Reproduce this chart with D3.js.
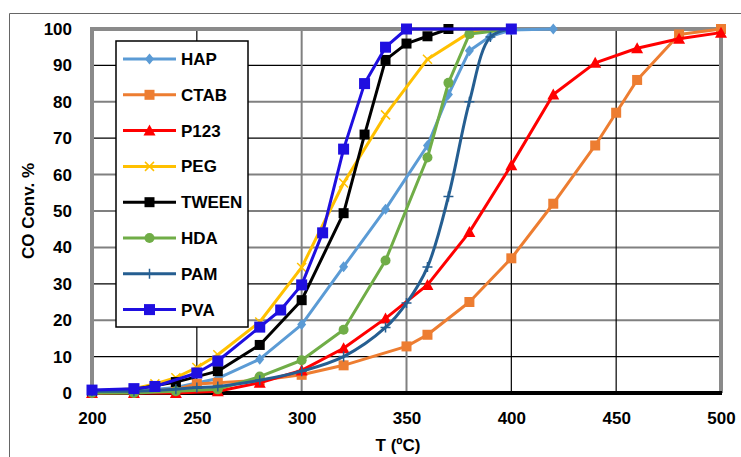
<!DOCTYPE html>
<html><head><meta charset="utf-8">
<script src="https://cdn.jsdelivr.net/npm/d3@7"></script>
<style>body{margin:0;background:#fff}svg{display:block}</style>
</head><body><svg id="c" width="741" height="457"></svg>
<script>
const xTicks = [200,250,300,350,400,450,500];
const yTicks = [0,10,20,30,40,50,60,70,80,90,100];
const seriesNames = ["HAP","CTAB","P123","PEG","TWEEN","HDA","PAM","PVA"];
const HAP_T = [200,220,240,260,280,300,320,340,360,370,380,390,400,420];
const HAP_V = [0,0.5,1.5,4,9.3,18.8,34.7,50.5,68,82,94,98,99.7,100];
const CTAB_T = [200,220,240,250,260,280,300,320,350,360,380,400,420,440,450,460,480,500];
const CTAB_V = [0,0.2,1,2.5,2.8,3.5,5,7.6,12.8,16,25,37,52,68,77,86,98.5,100];
const P123_T = [200,220,240,260,280,300,320,340,360,380,400,420,440,460,480,500];
const P123_V = [0,0,0,0.5,2.8,6.2,12.3,20.5,29.7,44.2,62.6,82,90.7,94.7,97.3,99];
const PEG_T = [200,220,230,240,250,260,280,300,320,340,360,380,400];
const PEG_V = [0.5,1.2,2.5,4.2,7,10.5,19.5,34.5,57.7,76.4,91.7,99,100];
const TWEEN_T = [200,220,240,260,280,300,320,330,340,350,360,370];
const TWEEN_V = [0.5,1,3,6,13.2,25.5,49.4,71,91.5,96,98,100];
const HDA_T = [200,220,240,260,280,300,320,340,360,370,380,400];
const HDA_V = [0,0,0.5,1,4.5,9,17.4,36.4,64.7,85.2,98.6,100];
const PAM_T = [200,220,240,250,260,280,300,320,340,350,360,370,380,390,400];
const PAM_V = [0.5,0.5,1,1.5,1.8,3.5,6,10,18,24.7,34.6,54,80,97.8,100];
const PVA_T = [200,220,230,250,260,280,290,300,310,320,330,340,350,400];
const PVA_V = [0.8,1.2,1.8,5.5,8.8,18.1,22.8,29.7,44,67,85,95,100,100];
const seriesT = [HAP_T,CTAB_T,P123_T,PEG_T,TWEEN_T,HDA_T,PAM_T,PVA_T];
const seriesV = [HAP_V,CTAB_V,P123_V,PEG_V,TWEEN_V,HDA_V,PAM_V,PVA_V];
const colors = ["#5B9BD5","#ED7D31","#FF0000","#FFC000","#000000","#70AD47","#255E91","#1F0FE0"];
const markers = ["diamond","square","triangle","x","square","circle","plus","square"];
const msize = [9,10,10,9,10,10,10,11];

const svg = d3.select("#c");
const L=92,R=721,T=29,B=393;
const x = d3.scaleLinear().domain([200,500]).range([L,R]);
const y = d3.scaleLinear().domain([0,100]).range([B,T]);
const font = "'Liberation Sans', Arial, sans-serif";

// outer frame
svg.append("path").attr("d",`M9.5,457 V13.5 H741`).attr("fill","none").attr("stroke","#666").attr("stroke-width",1);

// grid
yTicks.filter(v=>v>0&&v<100).forEach(v=>{
  const g = v%20===0;
  svg.append("line").attr("x1",L).attr("x2",R).attr("y1",y(v)).attr("y2",y(v))
    .attr("stroke",g?"#808080":"#000").attr("stroke-width",g?2:1.2);
});
xTicks.filter(v=>v>200&&v<500).forEach(v=>{
  const g = (v===300||v===350);
  svg.append("line").attr("y1",T).attr("y2",B).attr("x1",x(v)).attr("x2",x(v))
    .attr("stroke",g?"#808080":"#000").attr("stroke-width",g?2:1.2);
});
// borders
svg.append("line").attr("x1",L-2).attr("x2",R+2).attr("y1",T).attr("y2",T).attr("stroke","#8a8a8a").attr("stroke-width",4);
svg.append("line").attr("x1",R).attr("x2",R).attr("y1",T).attr("y2",B).attr("stroke","#8a8a8a").attr("stroke-width",4);
svg.append("line").attr("x1",L).attr("x2",L).attr("y1",T).attr("y2",B).attr("stroke","#8a8a8a").attr("stroke-width",4);
svg.append("line").attr("x1",L-2).attr("x2",R+1).attr("y1",B).attr("y2",B).attr("stroke","#000").attr("stroke-width",4);

// axes labels via d3 axes
const ya = svg.append("g").attr("transform",`translate(${L-20},0)`).call(d3.axisLeft(y).tickValues(yTicks).tickSize(0).tickPadding(0));
ya.select(".domain").remove();
ya.selectAll("text").attr("font-family",font).attr("font-weight","bold").attr("font-size",17).attr("fill","#000");
const xa = svg.append("g").attr("transform",`translate(0,${B+19})`).call(d3.axisBottom(x).tickValues(xTicks).tickSize(0).tickPadding(0));
xa.select(".domain").remove();
xa.selectAll("text").attr("font-family",font).attr("font-weight","bold").attr("font-size",17).attr("fill","#000");

svg.append("text").attr("x",398).attr("y",451).attr("text-anchor","middle")
  .attr("font-family",font).attr("font-weight","bold").attr("font-size",17).text("T (ºC)");
svg.append("text").attr("transform",`translate(34,${(T+B)/2}) rotate(-90)`).attr("text-anchor","middle")
  .attr("font-family",font).attr("font-weight","bold").attr("font-size",17).text("CO Conv. %");

function drawMarker(g, type, cx, cy, col, s){
  const h=s/2;
  if(type==="square") g.append("rect").attr("x",cx-h).attr("y",cy-h).attr("width",s).attr("height",s).attr("fill",col);
  else if(type==="diamond") g.append("path").attr("d",`M${cx},${cy-h-1}L${cx+h},${cy}L${cx},${cy+h+1}L${cx-h},${cy}Z`).attr("fill",col);
  else if(type==="triangle") g.append("path").attr("d",`M${cx},${cy-h-1}L${cx+h+1},${cy+h}L${cx-h-1},${cy+h}Z`).attr("fill",col);
  else if(type==="circle") g.append("circle").attr("cx",cx).attr("cy",cy).attr("r",h).attr("fill",col);
  else if(type==="x") g.append("path").attr("d",`M${cx-h},${cy-h}L${cx+h},${cy+h}M${cx-h},${cy+h}L${cx+h},${cy-h}`).attr("stroke",col).attr("stroke-width",1.5);
  else if(type==="plus") g.append("path").attr("d",`M${cx-h},${cy}L${cx+h},${cy}M${cx},${cy-h}L${cx},${cy+h}`).attr("stroke",col).attr("stroke-width",1.5);
}

seriesNames.forEach((name,i)=>{
  const data = seriesT[i].map((t,j)=>[t,seriesV[i][j]]);
  const line = d3.line().x(d=>x(d[0])).y(d=>y(d[1])).curve(name==="PAM"?d3.curveCatmullRom.alpha(0.5):d3.curveLinear);
  const g = svg.append("g");
  g.append("path").attr("d",line(data)).attr("fill","none").attr("stroke",colors[i]).attr("stroke-width",3).attr("stroke-linejoin","round");
  data.forEach(d=>drawMarker(g,markers[i],x(d[0]),y(d[1]),colors[i],msize[i]));
});

// legend
const lg = svg.append("g");
lg.append("rect").attr("x",116).attr("y",41).attr("width",132).attr("height",286).attr("fill","#fff").attr("stroke","#000").attr("stroke-width",1.5);
seriesNames.forEach((name,i)=>{
  const cy = 59 + i*35.8;
  lg.append("line").attr("x1",123).attr("x2",176).attr("y1",cy).attr("y2",cy).attr("stroke",colors[i]).attr("stroke-width",3);
  drawMarker(lg,markers[i],149.5,cy,colors[i],msize[i]);
  lg.append("text").attr("x",181).attr("y",cy).attr("dy","0.35em").attr("font-family",font).attr("font-weight","bold").attr("font-size",17).text(name);
});
</script></body></html>
